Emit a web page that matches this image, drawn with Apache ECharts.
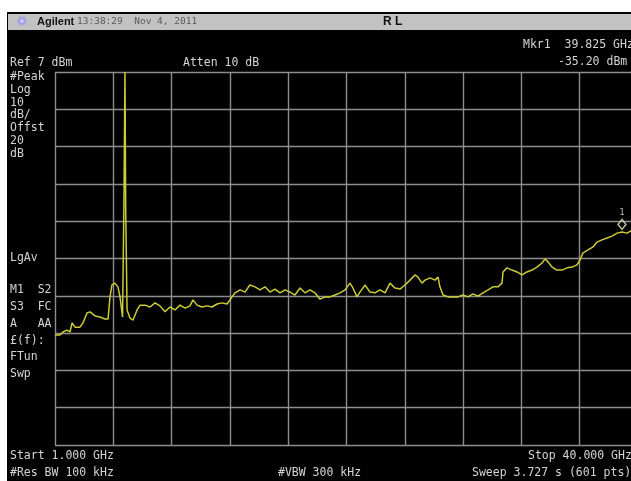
<!DOCTYPE html>
<html><head><meta charset="utf-8">
<script src="https://cdn.jsdelivr.net/npm/echarts@6/dist/echarts.min.js"></script>
<style>html,body{margin:0;padding:0;background:#fff;overflow:hidden}#c{width:645px;height:481px}</style>
</head><body><div id="c"></div>
<script>
// Trace: frequency (GHz) and level (dBm)
const freqGHz = [1.00,1.33,1.54,1.80,2.00,2.14,2.34,2.67,2.87,3.14,3.34,3.68,4.01,4.34,4.55,4.68,4.81,5.01,5.21,5.35,5.52,5.62,5.68,5.73,5.82,6.02,6.22,6.49,6.69,7.02,7.36,7.69,8.02,8.36,8.69,9.03,9.36,9.70,10.03,10.23,10.50,10.83,11.17,11.50,11.84,12.17,12.51,12.84,13.04,13.38,13.71,14.04,14.38,14.71,15.05,15.38,15.72,16.05,16.39,16.72,17.05,17.39,17.72,18.06,18.39,18.73,19.06,19.40,19.73,20.07,20.40,20.73,20.93,21.20,21.40,21.74,22.07,22.41,22.74,23.08,23.41,23.74,24.08,24.41,24.75,25.08,25.28,25.55,25.75,26.09,26.42,26.62,26.75,26.96,27.29,27.62,27.96,28.29,28.63,28.96,29.30,29.63,29.97,30.30,30.63,30.90,30.97,31.24,31.57,31.91,32.24,32.57,32.91,33.24,33.58,33.78,33.98,34.25,34.58,34.92,35.25,35.59,35.92,36.12,36.32,36.66,36.99,37.26,37.59,37.93,38.26,38.60,38.93,39.26,39.53,39.73,40.00];
const levelDbm = [-63.5,-63.5,-62.7,-62.2,-62.7,-60.3,-61.4,-61.4,-60.3,-57.6,-57.3,-58.4,-58.7,-59.2,-59.2,-53.3,-50.1,-49.6,-50.6,-53.3,-58.7,-24.6,7.0,-30.0,-56.8,-59.0,-59.5,-56.8,-55.5,-55.5,-56.0,-54.9,-55.7,-57.3,-56.0,-56.8,-55.5,-56.3,-55.7,-54.1,-55.5,-56.0,-55.7,-56.0,-55.2,-54.9,-55.2,-53.3,-52.2,-51.4,-52.0,-50.1,-50.6,-51.4,-50.6,-52.0,-51.2,-52.2,-51.4,-52.0,-52.8,-50.9,-52.2,-51.4,-52.2,-53.9,-53.3,-53.3,-52.8,-52.2,-51.4,-49.6,-50.9,-53.3,-52.0,-50.1,-52.0,-52.2,-51.4,-52.2,-49.6,-50.9,-51.2,-50.1,-48.8,-47.4,-48.0,-49.6,-48.8,-48.2,-48.8,-48.0,-50.6,-52.8,-53.3,-53.3,-53.3,-52.8,-53.3,-52.5,-53.1,-52.2,-51.4,-50.6,-50.6,-49.6,-46.6,-45.5,-46.1,-46.6,-47.4,-46.6,-46.1,-45.3,-44.2,-43.1,-43.9,-45.3,-46.1,-46.1,-45.5,-45.3,-44.7,-43.4,-41.5,-40.7,-39.9,-38.6,-38.0,-37.5,-37.0,-36.2,-35.9,-36.2,-35.6,-35.4,-35.1];
const markerFreq = [38.93];
const markerLevel = [-35.2];
const markerLabels = ['1'];
const refLevelDbm = 7, dbPerDiv = 10, startGHz = 1, stopGHz = 40;

const leftLabels = ['#Peak','Log','10','dB/','Offst','20','dB'];
const leftLabels2 = ['M1  S2','S3  FC','A   AA','\u00a3(f):','FTun','Swp'];

const chart = echarts.init(document.getElementById('c'), null, {renderer:'canvas'});
const txtColor = '#d4d4d4';
const mono = '11.5px "DejaVu Sans Mono", monospace';
function T(x,y,text,opt){ return Object.assign({type:'text',x:x,y:y,z:10,style:{text:text,fill:txtColor,font:mono,textVerticalAlign:'middle'}},opt||{}); }
const graphics = [
  {type:'rect',z:-10,shape:{x:7,y:12,width:640,height:469},style:{fill:'#000'}},
  {type:'rect',z:-9,shape:{x:8,y:14,width:640,height:16},style:{fill:'#c2c2c2'}},
  {type:'circle',z:5,shape:{cx:22,cy:21,r:5},style:{fill:{type:'radial',x:0.5,y:0.5,r:0.5,colorStops:[{offset:0,color:'#ffffff'},{offset:0.4,color:'#a8a0f0'},{offset:1,color:'rgba(140,130,230,0.2)'}]}}},
  T(37,22,'Agilent',{style:{text:'Agilent',fill:'#111',font:'bold 11px "Liberation Sans", sans-serif',textVerticalAlign:'middle'}}),
  T(77,22,'13:38:29  Nov 4, 2011',{style:{text:'13:38:29  Nov 4, 2011',fill:'#5a5a5a',font:'9.5px "DejaVu Sans Mono", monospace',textVerticalAlign:'middle'}}),
  T(383,22,'R L',{style:{text:'R L',fill:'#111',font:'bold 12px "Liberation Sans", sans-serif',textVerticalAlign:'middle'}}),
  T(10,63,'Ref 7 dBm'),
  T(183,63,'Atten 10 dB'),
  T(523,45,'Mkr1  39.825 GHz'),
  T(558,62,'-35.20 dBm'),
  T(10,456,'Start 1.000 GHz'),
  T(10,473,'#Res BW 100 kHz'),
  T(278,473,'#VBW 300 kHz'),
  T(528,456,'Stop 40.000 GHz'),
  T(472,473,'Sweep 3.727 s (601 pts)')
];
leftLabels.forEach((s,i)=>graphics.push(T(10,77+i*12.8,s)));
graphics.push(T(10,258,'LgAv'));
const ys2=[290,307,324,341,357,374];
leftLabels2.forEach((s,i)=>graphics.push(T(10,ys2[i],s)));

const gridLine = {show:true,lineStyle:{color:'#8e8e8e',width:1.4}};
chart.setOption({
  backgroundColor:'#fff',
  animation:false,
  grid:{left:55,top:72,width:583,height:373,containLabel:false},
  xAxis:[
    {type:'value',min:startGHz,max:stopGHz,show:false},
    {type:'value',min:0,max:10,interval:1,axisLine:{show:false},axisTick:{show:false},axisLabel:{show:false},splitLine:gridLine}
  ],
  yAxis:[
    {type:'value',min:refLevelDbm-10*dbPerDiv,max:refLevelDbm,show:false},
    {type:'value',min:0,max:10,interval:1,axisLine:{show:false},axisTick:{show:false},axisLabel:{show:false},splitLine:gridLine}
  ],
  series:[
    {type:'line',xAxisIndex:0,yAxisIndex:0,showSymbol:false,symbol:'none',clip:true,
     lineStyle:{color:'#cccc36',width:1.5},
     data:freqGHz.map((f,i)=>[f,levelDbm[i]]),z:5},
    {type:'scatter',xAxisIndex:0,yAxisIndex:0,symbol:'diamond',symbolSize:[8,10],symbolOffset:[0,-5],
     itemStyle:{color:'rgba(0,0,0,0)',borderColor:'#e8e8c0',borderWidth:1.5},
     label:{show:true,position:'top',distance:1,color:'#e0e0d0',fontSize:9,fontFamily:'DejaVu Sans Mono',formatter:p=>markerLabels[p.dataIndex]},
     data:markerFreq.map((f,i)=>[f,markerLevel[i]]),z:6}
  ],
  graphic:graphics
});
</script></body></html>
